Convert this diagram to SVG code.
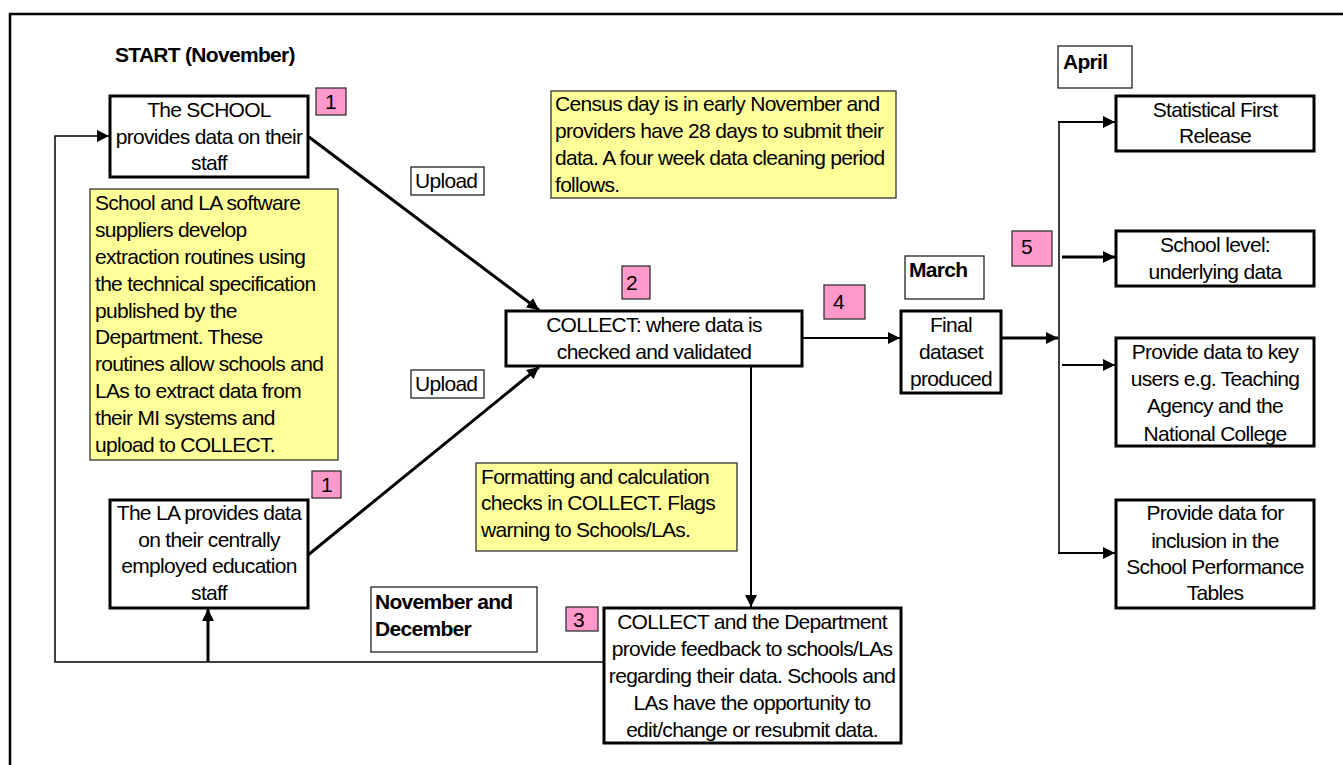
<svg xmlns="http://www.w3.org/2000/svg" width="1343" height="765" viewBox="0 0 1343 765">
<style>
text{font-family:"Liberation Sans",Arial,sans-serif;font-size:21px;letter-spacing:-0.7px;fill:#000}
.b{font-weight:bold}
.c{text-anchor:middle}
.box{fill:#fff;stroke:#000;stroke-width:3}
.note{fill:#FFFF99;stroke:#333;stroke-width:1.3}
.pink{fill:#FF99CC;stroke:#333;stroke-width:1.3}
.lbl{fill:#fff;stroke:#222;stroke-width:1.3}
.ln{fill:none;stroke:#000}
</style>
<defs>
<marker id="arr" markerUnits="userSpaceOnUse" markerWidth="13" markerHeight="12" refX="12" refY="6" orient="auto">
<path d="M0,0 L12,6 L0,12 z" fill="#000"/>
</marker>
</defs>
<rect width="1343" height="765" fill="#fff"/>
<path d="M10,765 V14 H1343" fill="none" stroke="#000" stroke-width="2.5"/>

<g id="connectors">
<polyline class="ln" stroke-width="1.5" points="604,662 55,662 55,136 109,136" marker-end="url(#arr)"/>
<line class="ln" stroke-width="3" x1="208" y1="662" x2="208" y2="609" marker-end="url(#arr)"/>
<line class="ln" stroke-width="3" x1="309" y1="137" x2="539" y2="310" marker-end="url(#arr)"/>
<line class="ln" stroke-width="3" x1="308" y1="555" x2="539" y2="367" marker-end="url(#arr)"/>
<line class="ln" stroke-width="2" x1="802" y1="338" x2="900" y2="338" marker-end="url(#arr)"/>
<line class="ln" stroke-width="2" x1="751" y1="366" x2="751" y2="607" marker-end="url(#arr)"/>
<line class="ln" stroke-width="3" x1="1001" y1="338" x2="1058" y2="338" marker-end="url(#arr)"/>
<line class="ln" stroke-width="1.5" x1="1059" y1="122" x2="1059" y2="553"/>
<path class="ln" stroke-width="2" d="M1058,122 H1115" marker-end="url(#arr)"/>
<path class="ln" stroke-width="3" d="M1062,257 H1115" marker-end="url(#arr)"/>
<path class="ln" stroke-width="2" d="M1062,365 H1115" marker-end="url(#arr)"/>
<path class="ln" stroke-width="2" d="M1058,553 H1115" marker-end="url(#arr)"/>
</g>

<g id="start-label"><text class="b" x="115" y="62">START (November)</text></g>

<g id="school">
<rect class="box" x="110" y="96" width="198" height="81"/>
<text class="c" x="209"><tspan x="209" y="117">The SCHOOL</tspan><tspan x="209" y="144">provides data on their</tspan><tspan x="209" y="170">staff</tspan></text>
</g>
<g id="badge1a"><rect class="pink" x="316" y="88" width="30" height="27"/><text x="325" y="109">1</text></g>

<g id="note-software">
<rect class="note" x="90" y="189" width="248" height="271"/>
<text x="95"><tspan x="95" y="210">School and LA software</tspan><tspan x="95" y="237">suppliers develop</tspan><tspan x="95" y="264">extraction routines using</tspan><tspan x="95" y="291">the technical specification</tspan><tspan x="95" y="318">published by the</tspan><tspan x="95" y="344">Department. These</tspan><tspan x="95" y="371">routines allow schools and</tspan><tspan x="95" y="398">LAs to extract data from</tspan><tspan x="95" y="425">their MI systems and</tspan><tspan x="95" y="452">upload to COLLECT.</tspan></text>
</g>

<g id="upload1"><rect class="lbl" x="411" y="167" width="73" height="28"/><text x="415" y="188">Upload</text></g>
<g id="upload2"><rect class="lbl" x="411" y="370" width="73" height="28"/><text x="415" y="391">Upload</text></g>

<g id="badge1b"><rect class="pink" x="312" y="471" width="29" height="27"/><text x="321" y="492">1</text></g>
<g id="la">
<rect class="box" x="110" y="500" width="198" height="108"/>
<text class="c"><tspan x="209" y="520">The LA provides data</tspan><tspan x="209" y="547">on their centrally</tspan><tspan x="209" y="573">employed education</tspan><tspan x="209" y="600">staff</tspan></text>
</g>

<g id="note-census">
<rect class="note" x="551" y="91" width="345" height="107"/>
<text><tspan x="555" y="111">Census day is in early November and</tspan><tspan x="555" y="138">providers have 28 days to submit their</tspan><tspan x="555" y="165">data. A four week data cleaning period</tspan><tspan x="555" y="192">follows.</tspan></text>
</g>

<g id="badge2"><rect class="pink" x="622" y="266" width="28" height="33"/><text x="626" y="290">2</text></g>
<g id="collect">
<rect class="box" x="506" y="311" width="296" height="55"/>
<text class="c"><tspan x="654" y="332">COLLECT: where data is</tspan><tspan x="654" y="359">checked and validated</tspan></text>
</g>

<g id="badge4"><rect class="pink" x="824" y="285" width="41" height="34"/><text x="833" y="309">4</text></g>
<g id="march"><rect class="lbl" x="905" y="256" width="79" height="43"/><text class="b" x="909" y="277">March</text></g>
<g id="final">
<rect class="box" x="901" y="311" width="100" height="82"/>
<text class="c"><tspan x="951" y="332">Final</tspan><tspan x="951" y="359">dataset</tspan><tspan x="951" y="386">produced</tspan></text>
</g>

<g id="note-format">
<rect class="note" x="476" y="463" width="261" height="88"/>
<text><tspan x="481" y="484">Formatting and calculation</tspan><tspan x="481" y="510">checks in COLLECT. Flags</tspan><tspan x="481" y="537">warning to Schools/LAs.</tspan></text>
</g>

<g id="novdec"><rect class="lbl" x="371" y="587" width="166" height="65"/><text class="b"><tspan x="375" y="609">November and</tspan><tspan x="375" y="636">December</tspan></text></g>

<g id="badge3"><rect class="pink" x="566" y="607" width="32" height="24"/><text x="573" y="627">3</text></g>
<g id="feedback">
<rect class="box" x="604" y="608" width="297" height="135" stroke-width="2.5"/>
<text class="c"><tspan x="752" y="629">COLLECT and the Department</tspan><tspan x="752" y="656">provide feedback to schools/LAs</tspan><tspan x="752" y="683">regarding their data. Schools and</tspan><tspan x="752" y="710">LAs have the opportunity to</tspan><tspan x="752" y="737">edit/change or resubmit data.</tspan></text>
</g>

<g id="april"><rect class="lbl" x="1058" y="46" width="74" height="42"/><text class="b" x="1063" y="69">April</text></g>
<g id="badge5"><rect class="pink" x="1012" y="231" width="40" height="35"/><text x="1021" y="254">5</text></g>

<g id="sfr">
<rect class="box" x="1116" y="96" width="198" height="55"/>
<text class="c"><tspan x="1215" y="117">Statistical First</tspan><tspan x="1215" y="143">Release</tspan></text>
</g>
<g id="school-level">
<rect class="box" x="1116" y="231" width="198" height="55"/>
<text class="c"><tspan x="1215" y="252">School level:</tspan><tspan x="1215" y="279">underlying data</tspan></text>
</g>
<g id="key-users">
<rect class="box" x="1116" y="338" width="198" height="108"/>
<text class="c"><tspan x="1215" y="359">Provide data to key</tspan><tspan x="1215" y="386">users e.g. Teaching</tspan><tspan x="1215" y="413">Agency and the</tspan><tspan x="1215" y="441">National College</tspan></text>
</g>
<g id="performance">
<rect class="box" x="1116" y="500" width="198" height="108"/>
<text class="c"><tspan x="1215" y="520">Provide data for</tspan><tspan x="1215" y="548">inclusion in the</tspan><tspan x="1215" y="574">School Performance</tspan><tspan x="1215" y="600">Tables</tspan></text>
</g>
</svg>
